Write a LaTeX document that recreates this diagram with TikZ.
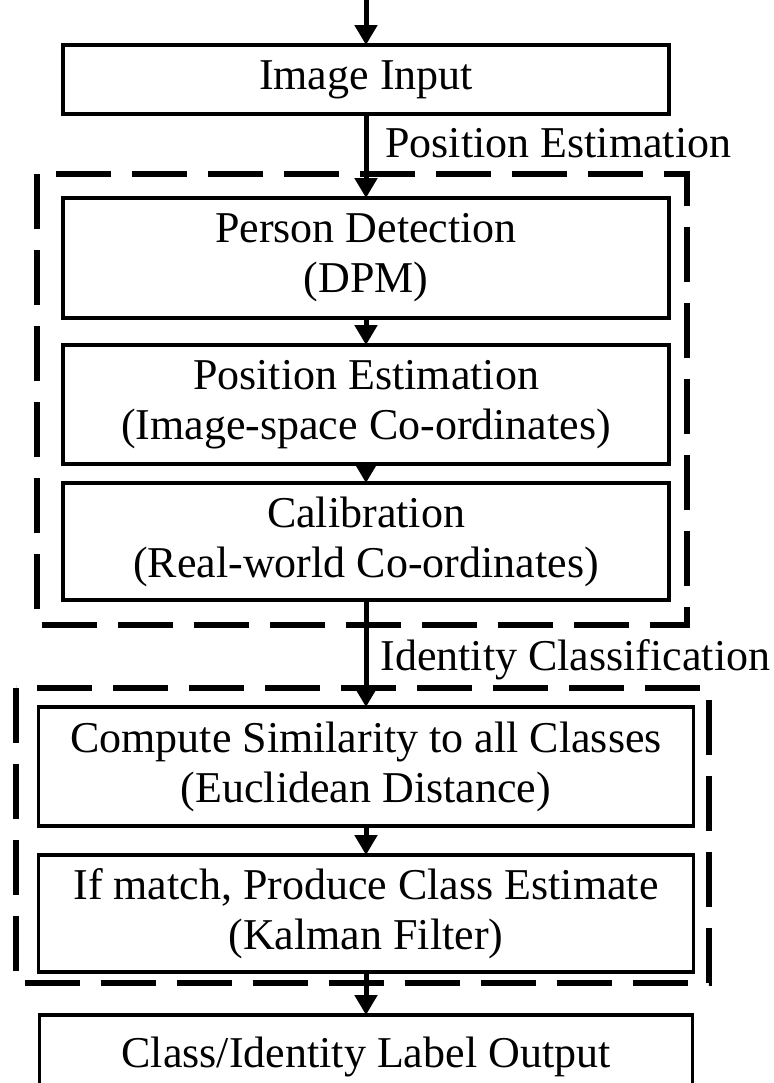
\documentclass[tikz,border=0pt]{standalone}
\usepackage{fontspec}
\setmainfont{Liberation Serif}
\usetikzlibrary{positioning,arrows.meta}

\begin{document}
\begin{tikzpicture}[font=\fontsize{22}{25}\selectfont, node distance=14pt,
    stepbox/.style={draw, line width=1.8pt, align=center, inner sep=0pt, outer sep=0pt, minimum width=303pt},
    frame/.style={draw, line width=3pt, dash pattern=on 27.5pt off 10.5pt},
    flow/.style={line width=2.5pt, -{Triangle[length=10pt,width=11pt]}},
    lbl/.style={inner sep=0pt, anchor=base west}]
        \useasboundingbox (0,0) rectangle (387pt,-541.5pt);
        % main chain
        \coordinate (in) at (183pt,0pt);
        \node[stepbox, minimum height=34.5pt] (img) at (183pt,-39.75pt) {Image Input};
        \node[stepbox, below=42pt of img, minimum height=60pt] (det) {Person Detection\\(DPM)};
        \node[stepbox, below=13.5pt of det, minimum height=59.5pt] (pos) {Position Estimation\\(Image-space Co-ordinates)};
        \node[stepbox, below=9.5pt of pos, minimum height=58.5pt] (cal) {Calibration\\(Real-world Co-ordinates)};
        \node[stepbox, below=53.5pt of cal, minimum width=327.5pt, minimum height=59.5pt] (sim) {Compute Similarity to all Classes\\(Euclidean Distance)};
        \node[stepbox, below=14.5pt of sim, minimum width=327.5pt, minimum height=58.5pt] (kal) {If match, Produce Class Estimate\\(Kalman Filter)};
        \node[stepbox, below=21.5pt of kal, minimum width=326.5pt, minimum height=42pt] (out) {Class/Identity Label Output};
        % stage frames
        \draw[frame] ([xshift=-13pt,yshift=12pt]det.north west) rectangle ([xshift=9pt,yshift=-12.5pt]cal.south east);
        \draw[frame] ([xshift=-11.5pt,yshift=9.5pt]sim.north west) rectangle ([xshift=7.5pt,yshift=-5.5pt]kal.south east);
        \node[lbl] (lblpos) at (192.5pt,-78.5pt) {Position Estimation};
        \node[lbl] (lblid) at (190pt,-335pt) {Identity Classification};
        % arrows
        \draw[flow] (in)--(img);
        \draw[flow] (img)--(det);
        \draw[flow] (det)--(pos);
        \draw[flow] (pos)--(cal);
        \draw[flow] (cal)--(sim);
        \draw[flow] (sim)--(kal);
        \draw[flow] (kal)--(out);
      \end{tikzpicture}
\end{document}
